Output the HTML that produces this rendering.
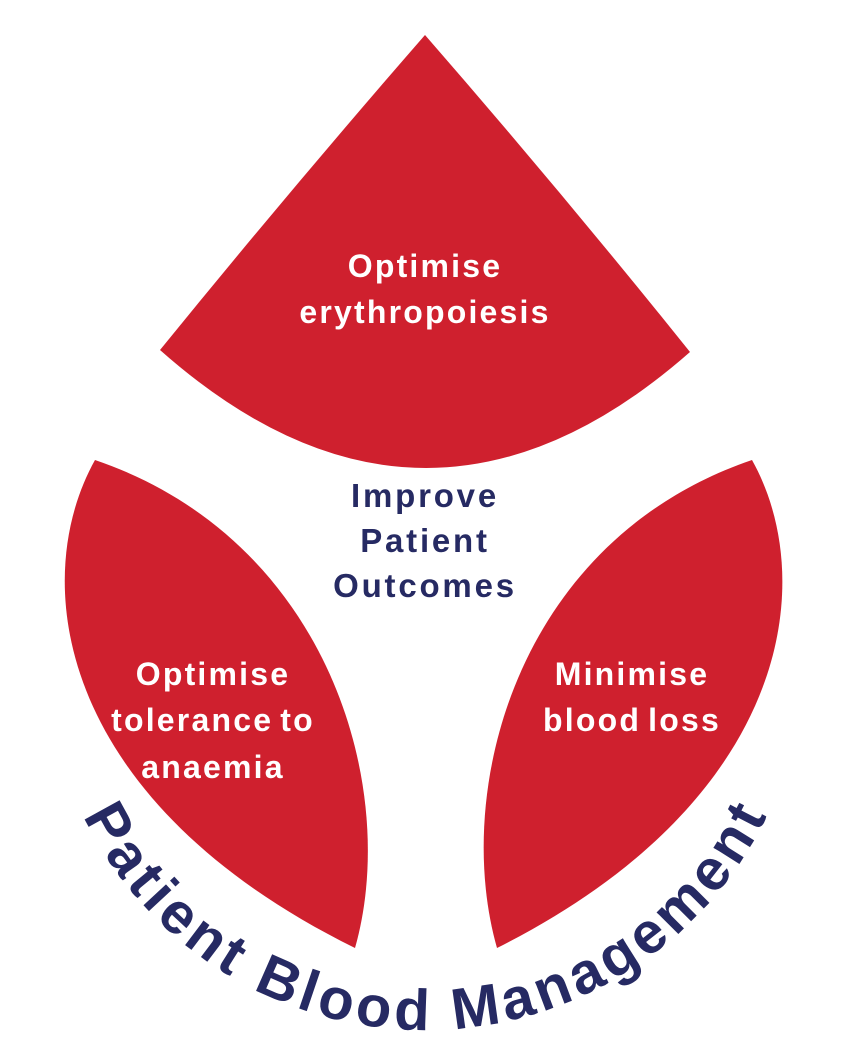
<!DOCTYPE html>
<html><head><meta charset="utf-8"><style>
html,body{margin:0;padding:0;background:#fff;}
svg{display:block}
text{font-family:"Liberation Sans",sans-serif;font-weight:bold;}
</style></head><body>
<svg width="847" height="1055" viewBox="0 0 847 1055" xmlns="http://www.w3.org/2000/svg">
<path d="M425,35 Q560,190 690,352 Q425,585 160,350 Q290,190 425,35 Z" fill="#cf202e"/>
<path d="M95,460 C28,580 55,800 355,948 C400,790 330,540 95,460 Z" fill="#cf202e"/>
<path d="M752,460 C819,580 792,800 497,948 C452,790 517,540 752,460 Z" fill="#cf202e"/>
<g fill="#fff" font-size="32" text-anchor="middle" letter-spacing="2.2" word-spacing="-4">
<text x="425" y="277">Optimise</text>
<text x="425" y="323">erythropoiesis</text>
<text x="213" y="685">Optimise</text>
<text x="213" y="731">tolerance to</text>
<text x="213" y="778">anaemia</text>
<text x="632" y="685">Minimise</text>
<text x="632" y="731">blood loss</text>
</g>
<g fill="#262a63" font-size="33" text-anchor="middle" letter-spacing="2.8">
<text x="425" y="507">Improve</text>
<text x="425" y="552">Patient</text>
<text x="425" y="597">Outcomes</text>
</g>
<defs><path id="arc" d="M45,650 A380,380 0 0 0 805,650"/></defs>
<text font-size="58" fill="#262a63" font-weight="bold"><textPath href="#arc" startOffset="50%" text-anchor="middle" textLength="850" lengthAdjust="spacing">Patient Blood Management</textPath></text>
</svg>
</body></html>
